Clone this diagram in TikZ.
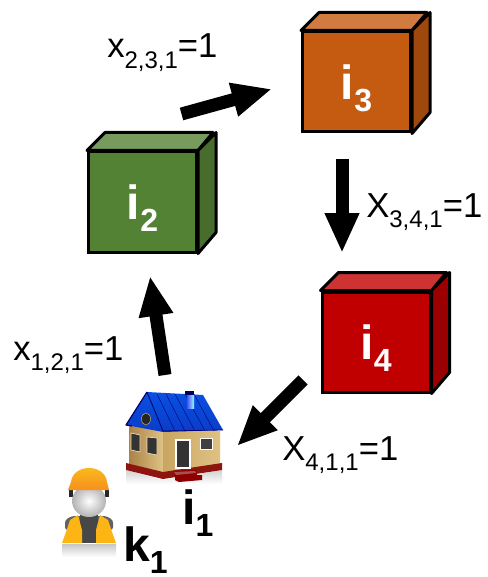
\documentclass[tikz,border=0pt]{standalone}
\usepackage{fontspec}
\setmainfont{Liberation Sans}
\usetikzlibrary{arrows.meta}
\definecolor{orangef}{HTML}{C55A11}
\definecolor{oranget}{HTML}{D17B41}
\definecolor{oranges}{HTML}{9E480E}
\definecolor{greenf}{HTML}{548235}
\definecolor{greent}{HTML}{769B5D}
\definecolor{greens}{HTML}{476C2C}
\definecolor{redf}{HTML}{C00000}
\definecolor{redt}{HTML}{CD3333}
\definecolor{reds}{HTML}{9A0000}
\definecolor{walla}{HTML}{A98248}
\definecolor{wallb}{HTML}{E0C283}
\definecolor{wallc}{HTML}{C9A562}
\definecolor{wallbase}{HTML}{8E1410}
\definecolor{roofa}{HTML}{0A50E0}
\definecolor{roofb}{HTML}{0A3CC8}
\definecolor{vest}{HTML}{FDB515}
\definecolor{hat}{HTML}{F7A823}
\newcommand{\cubelbl}[2]{\fontsize{36}{36}\bfseries\selectfont #1\raisebox{-0.25em}{\fontsize{24}{24}\selectfont #2}}
\newcommand{\flowlbl}[2]{\fontsize{26}{26}\selectfont #1\raisebox{-0.3em}{\fontsize{18}{18}\selectfont #2}=1}
\tikzset{
	cubeface/.style={draw=black,line width=2.25pt,minimum width=81pt,minimum height=75pt,inner sep=0pt,text=white,text depth=0pt},
	cubeedge/.style={draw=black,line width=2.25pt,line join=round},
	bigarrow/.style={line width=9.75pt,-{Triangle[length=30pt,width=24pt]}},
	flowtext/.style={anchor=base west,inner sep=0pt},
	blacktext/.style={anchor=base west,inner sep=0pt,text=black}
}
\begin{document}
\begin{tikzpicture}[x=0.75pt,y=-0.75pt]
	\useasboundingbox (0,0) rectangle (487,577);
	% boxes
	\foreach \nm/\cx/\cy/\nn/\cc in {i2/142.5/202/2/green,i3/356.5/82/3/orange,i4/376/342/4/red}{
		\node[cubeface,fill=\cc f] (\nm) at (\cx,\cy) {\cubelbl{i}{\nn}};
		\draw[cubeedge,fill=\cc t] (\nm.north west)--++(18,-18)--++(108,0)--(\nm.north east)--cycle;
		\draw[cubeedge,fill=\cc s] (\nm.north east)--++(18,-18)--++(0,100)--(\nm.south east)--cycle;
	}
	% arrows
	\coordinate (s23) at (181.5,114);
	\coordinate (t23) at (272,89);
	\coordinate (s34) at (342,159);
	\coordinate (t34) at (342,253);
	\coordinate (s41) at (303,380);
	\coordinate (t41) at (237,446);
	\coordinate (s12) at (165,375);
	\coordinate (t12) at (150,276);
	\draw[bigarrow] (s23)--(t23);
	\draw[bigarrow] (s34)--(t34);
	\draw[bigarrow] (s41)--(t41);
	\draw[bigarrow] (s12)--(t12);
	% labels
	\node[flowtext] (l23) at (107,58) {\flowlbl{x}{2,3,1}};
	\node[flowtext] (l34) at (366,217) {\flowlbl{X}{3,4,1}};
	\node[flowtext] (l12) at (13,360) {\flowlbl{x}{1,2,1}};
	\node[flowtext] (l41) at (282,460) {\flowlbl{X}{4,1,1}};
	\node[blacktext] (i1) at (182,524) {\cubelbl{i}{1}};
	\node[blacktext] (k1) at (123,561) {\cubelbl{k}{1}};
	% house
	\shade[top color=black!18,bottom color=white] (126,470)--(163,480)--(222,470)--(222,484)--(126,484)--cycle;
	\shade[left color=walla,right color=wallb] (147,396)--(129,427)--(129,464)--(163,474)--(163,431)--cycle;
	\shade[left color=wallc,right color=wallb] (163,431)--(220,431)--(220,465)--(163,473)--cycle;
	\fill[wallbase] (126,463)--(163,472)--(222,463)--(222,470)--(163,479)--(126,470)--cycle;
	\shade[top color=roofa,bottom color=roofb] (147,392)--(203,395)--(223,430)--(163,432)--(126,425)--cycle;
	\draw[blue!45!black,line width=0.9pt,line join=round] (147,392)--(126,425)--(132,426);
	\draw[blue!45!black,line width=0.6pt] (147,392)--(163,431)--(223,430);
	\foreach \xa/\xb in {157/175,166/185,175/195,185/205,194/214}
	\draw[blue!50!black,line width=0.3pt] (\xa,394)--(\xb,431);
	\fill[blue!35!black] (185,391) rectangle (194,395);
	\shade[left color=blue!70!white,right color=cyan!40!white] (187,395) rectangle (194,408);
	\draw[wallc,line width=0.4pt,fill=black!85] (146,419) ellipse (4.5 and 6);
	\draw[wallb!50!white,line width=0.5pt,fill=black!80] (131,433)--(140,435)--(140,452)--(131,450)--cycle;
	\draw[wallb!50!white,line width=0.5pt,fill=black!80] (147,437)--(157,438)--(157,455)--(147,453)--cycle;
	\draw[white,line width=0.6pt,fill=black!75] (200,438) rectangle (212,449);
	\draw[white,line width=1.4pt,fill=black!80] (176,440) rectangle (190,468);
	\fill[red!55!black] (173,471)--(196,470)--(197,475)--(202,475)--(202,480)--(179,482)--(175,480)--(175,476)--cycle;
	\fill[wallbase!75!white] (174,472)--(195,471)--(196,473)--(176,475)--cycle;
	% worker
	\shade[top color=black!22,bottom color=white] (62,544) rectangle (116,557);
	\fill[black!62,rounded corners=2pt] (65,530)--(65,520)--(72,516)--(106,516)--(113,520)--(113,530)--cycle;
	\fill[black!72] (80,515) rectangle (98,543);
	\fill[vest] (62,543)--(66,532)--(70,520)--(78,515)--(82,530)--(82,543)--cycle;
	\fill[vest] (116,543)--(112,532)--(108,520)--(100,515)--(96,530)--(96,543)--cycle;
	\fill[black!85] (69,490) rectangle (73,497);
	\fill[black!85] (105,490) rectangle (109,497);
	\shade[inner color=white,outer color=black!30] (89,501) ellipse (17 and 16);
	\shade[top color=hat!80!yellow,bottom color=hat!85!red] (71,482)..controls (72,473) and (80,468) .. (89,468)..controls (98,468) and (106,473) .. (107,482)--(109,490)--(68,490)--cycle;
\end{tikzpicture}
\end{document}
